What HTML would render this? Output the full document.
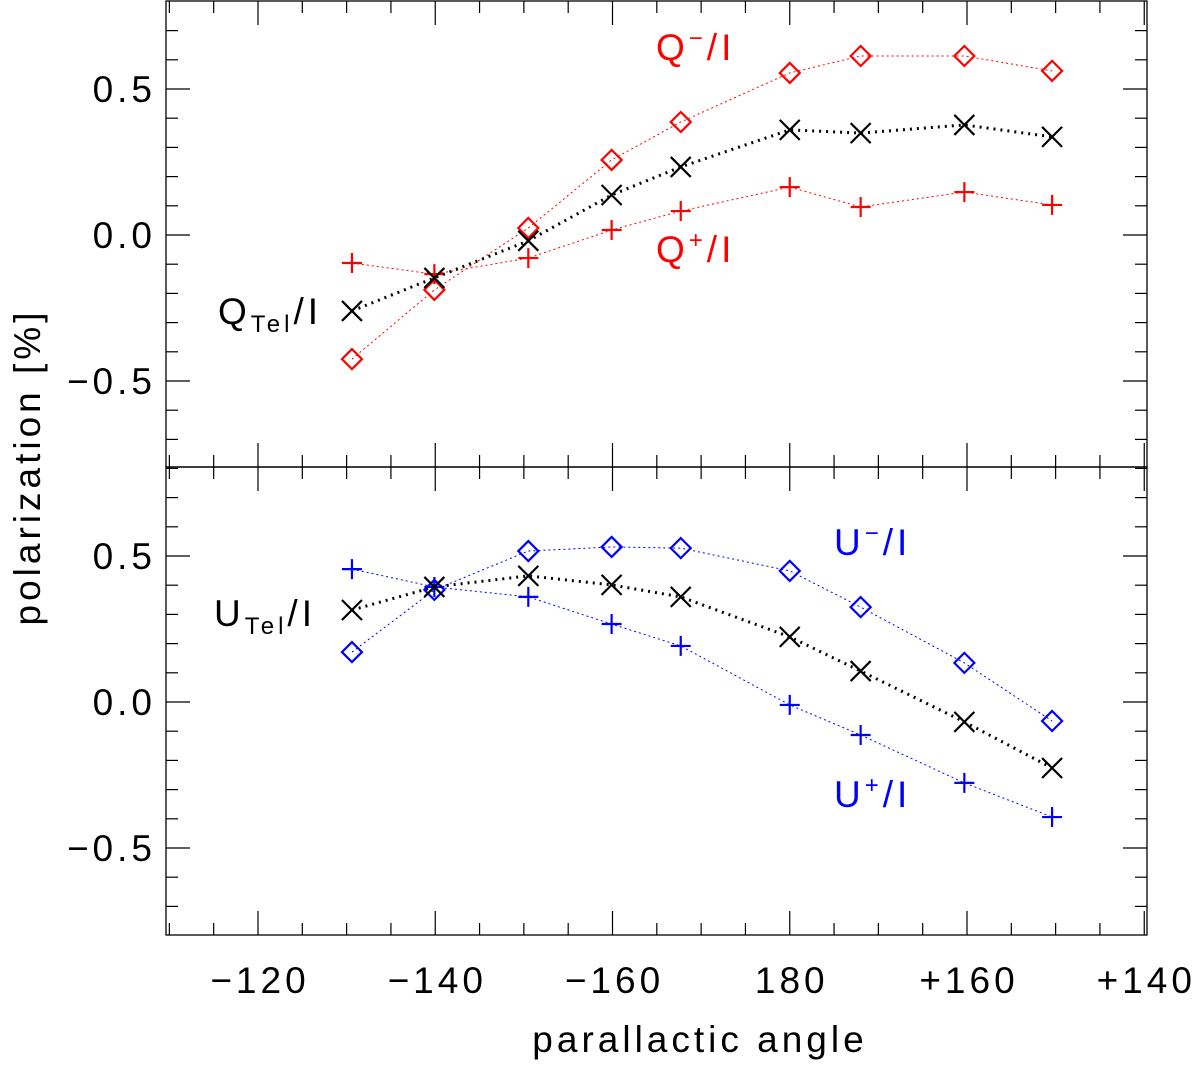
<!DOCTYPE html>
<html><head><meta charset="utf-8"><style>
body{margin:0;background:#fff}
svg text{font-family:"Liberation Sans",sans-serif;font-size:37px;letter-spacing:4px}
</style></head><body>
<svg id="c" width="1200" height="1064" xmlns="http://www.w3.org/2000/svg"></svg>
<script>
const angles=[130.6,139.9,150.5,159.9,167.7,180,188,199.7,209.6];
const qMinus=[-0.425,-0.188,0.024,0.257,0.387,0.555,0.613,0.613,0.562];
const qTel=[-0.26,-0.147,-0.02,0.137,0.233,0.36,0.349,0.377,0.336];
const qPlus=[-0.096,-0.134,-0.079,0.017,0.082,0.164,0.096,0.147,0.103];
const uMinus=[0.171,0.384,0.517,0.531,0.527,0.449,0.325,0.134,-0.065];
const uTel=[0.315,0.394,0.432,0.401,0.36,0.223,0.106,-0.068,-0.226];
const uPlus=[0.455,0.394,0.36,0.267,0.192,-0.01,-0.113,-0.277,-0.394];
const xTickVals=[120,140,160,180,200,220];
const xTickLabels=["\u2212120","\u2212140","\u2212160","180","+160","+140"];
const yTickVals=[-0.5,0,0.5];
const yTickLabels=["\u22120.5","0.0","0.5"];
const NS="http://www.w3.org/2000/svg",svg=document.getElementById('c');
const L=166,R=1147;
const X=v=>258+(v-120)*8.8625;
const panels=[{top:1,bot:467,zero:235},{top:467,bot:935,zero:702}];
const Y=(p,v)=>panels[p].zero-v*292;
function el(t,a,txt){const e=document.createElementNS(NS,t);for(const k in a)e.setAttribute(k,a[k]);if(txt!==undefined)e.textContent=txt;svg.appendChild(e);return e;}
panels.forEach((p,i)=>{
 const f=el('rect',{x:L,y:p.top,width:R-L,height:p.bot-p.top,fill:'none',stroke:'#000','stroke-width':1.3});
 
 
 for(let v=-0.8;v<=0.801;v+=0.1){const y=Y(i,v);if(y<=p.top+1||y>=p.bot-1)continue;const maj=Math.abs(Math.round(v*10)%5)===0;const len=maj?24:12;
  el('line',{x1:L,x2:L+len,y1:y,y2:y,stroke:'#000','stroke-width':1.2});el('line',{x1:R,x2:R-len,y1:y,y2:y,stroke:'#000','stroke-width':1.2});}
 yTickVals.forEach((v,k)=>{const t=el('text',{x:L-10,y:Y(i,v)+13,'text-anchor':'end',fill:'#000'},yTickLabels[k]);
  
  });
 for(let v=110;v<=220;v+=5){const x=X(v);if(x<=L||x>=R)continue;const len=v%20===0?24:12;
  el('line',{x1:x,x2:x,y1:p.bot,y2:p.bot-len,stroke:'#000','stroke-width':1.2});el('line',{x1:x,x2:x,y1:p.top,y2:p.top+len,stroke:'#000','stroke-width':1.2});}
});
xTickVals.forEach((v,k)=>{const t=el('text',{x:X(v)+2,y:993,'text-anchor':'middle',fill:'#000'},xTickLabels[k]);
 
 });
function series(p,vals,color,marker,w,dash,name){
 const pts=vals.map((v,k)=>[X(angles[k]),Y(p,v)]);
 const pl=el('polyline',{points:pts.map(q=>q.join(',')).join(' '),fill:'none',stroke:color,'stroke-width':w,'stroke-dasharray':dash});
 
 
 pts.forEach(([x,y])=>{let d;
  if(marker==='x')d=`M${x-10},${y-10}L${x+10},${y+10}M${x-10},${y+10}L${x+10},${y-10}`;
  else if(marker==='+')d=`M${x-10},${y}L${x+10},${y}M${x},${y-10}L${x},${y+10}`;
  else d=`M${x},${y-10}L${x+10},${y}L${x},${y+10}L${x-10},${y}Z`;
  const m=el('path',{d:d,fill:'none',stroke:color,'stroke-width':2.2});
  
  });
}
series(0,qMinus,'#f00','d',1,'2,3','q-minus');
series(0,qPlus,'#f00','+',1,'2,3','q-plus');
series(0,qTel,'#000','x',3,'2,5','q-tel');
series(1,uMinus,'#00f','d',1,'2,3','u-minus');
series(1,uPlus,'#00f','+',1,'2,3','u-plus');
series(1,uTel,'#000','x',3,'2,5','u-tel');
function lab(x,y,c,main,sup,sub,name){const t=el('text',{x:x,y:y,fill:c});
 t.innerHTML=main+(sup?`<tspan dy="-14" font-size="24">${sup}</tspan><tspan dy="14">/I</tspan>`:sub?`<tspan dy="8" font-size="24">${sub}</tspan><tspan dy="-8">/I</tspan>`:'');
 
 }
lab(656,60,'#f00','Q','\u2212',null,'q-minus-label');
lab(656,262,'#f00','Q','+',null,'q-plus-label');
lab(218,324,'#000','Q',null,'Tel','q-tel-label');
lab(834,555,'#00f','U','\u2212',null,'u-minus-label');
lab(834,807,'#00f','U','+',null,'u-plus-label');
lab(214,626,'#000','U',null,'Tel','u-tel-label');
const xt=el('text',{x:700,y:1052,'text-anchor':'middle',fill:'#000','letter-spacing':'9px'},'parallactic angle');


const yt=el('text',{x:0,y:0,'text-anchor':'middle',fill:'#000','letter-spacing':'9px',transform:'translate(40,467) rotate(-90)'},'polarization [%]');


</script>
</body></html>
